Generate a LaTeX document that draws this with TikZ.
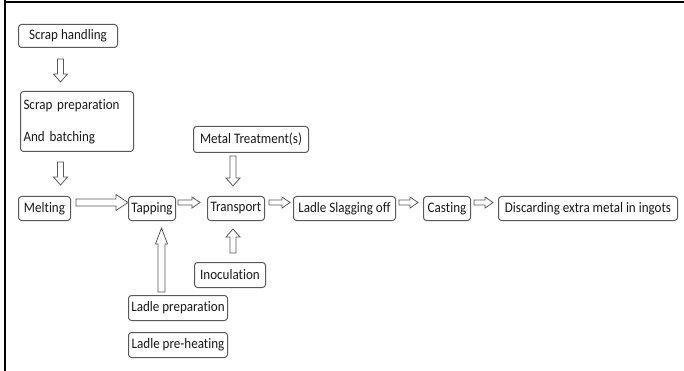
\documentclass[tikz,border=0pt]{standalone}
\usepackage{fontspec}
\setmainfont{Carlito}[Ligatures=NoCommon, FakeStretch=0.9]
\usetikzlibrary{calc}

\tikzset{
  arr shaft/.store in=\arrshaft, arr head/.store in=\arrhead, arr len/.store in=\arrlen,
  arr pre/.store in=\arrpre, arr post/.store in=\arrpost,
  arr shaft=3, arr head=7, arr len=8, arr pre=0, arr post=0,
  stage/.style={draw=black!65, line width=1pt, rounded corners=3pt, anchor=north west,
    minimum height=24pt, inner sep=1pt, text=black!90, font=\fontsize{14.5}{17}\selectfont},
  hollow/.style={draw=black!65, line width=0.8pt, fill=white, line join=miter,
    to path={let \p1=(\tikztostart), \p2=(\tikztotarget),
      \n1={veclen(\x2-\x1,\y2-\y1)}, \n2={(\x2-\x1)/\n1}, \n3={(\y2-\y1)/\n1},
      \p3=({\x1+(\n2)*\arrpre},{\y1+(\n3)*\arrpre}),
      \p4=({\x2-(\n2)*\arrpost},{\y2-(\n3)*\arrpost}),
      \p5=({\x4-(\n2)*\arrlen},{\y4-(\n3)*\arrlen}) in
      ({\x3-(\n3)*\arrshaft},{\y3+(\n2)*\arrshaft}) -- ({\x5-(\n3)*\arrshaft},{\y5+(\n2)*\arrshaft})
      -- ({\x5-(\n3)*\arrhead},{\y5+(\n2)*\arrhead}) -- (\p4)
      -- ({\x5+(\n3)*\arrhead},{\y5-(\n2)*\arrhead}) -- ({\x5+(\n3)*\arrshaft},{\y5-(\n2)*\arrshaft})
      -- ({\x3+(\n3)*\arrshaft},{\y3-(\n2)*\arrshaft}) -- cycle}},
  bigarr/.style={arr shaft=3.5, arr head=8, arr len=12},
  smallarr/.style={arr shaft=2.5, arr head=5.5, arr len=8}
}

\begin{document}
\begin{tikzpicture}[x=1pt, y=-1pt]
  \useasboundingbox (0,0) rectangle (684,371);
  % frame (top and left only)
  \draw[line width=2pt] (5,0) -- (5,371);
  \draw[line width=2pt] (4,2) -- (684,2);

  % scrap side
  \node[stage, minimum width=99pt, minimum height=23pt] (scrap) at (18,24) {Scrap handling};
  \node[stage, minimum width=113pt, minimum height=60pt, text width=107pt, inner xsep=3pt, align=left]
    (prep) at (20,91) {Scrap preparation\\[15pt]And batching};

  % main line
  \node[stage, minimum width=52pt] (melt) at (18,196) {Melting};
  \node[stage, minimum width=47pt] (tap) at (128,196) {Tapping};
  \node[stage, minimum width=57pt] (trans) at (207,196) {Transport};
  \node[stage, minimum width=102pt] (slag) at (293,196) {Ladle Slagging off};
  \node[stage, minimum width=47pt] (cast) at (423,196) {Casting};
  \node[stage, minimum width=179pt] (disc) at (498,196) {Discarding extra metal in ingots};

  % side inputs
  \node[stage, minimum width=115pt, minimum height=26pt] (treat) at (193,126) {Metal Treatment(s)};
  \node[stage, minimum width=71pt, minimum height=25pt] (inoc) at (194,262) {Inoculation};
  \node[stage, minimum width=99pt, minimum height=25pt] (lprep) at (128,295) {Ladle preparation};
  \node[stage, minimum width=99pt, minimum height=25pt] (lheat) at (128,332) {Ladle pre-heating};

  % hollow arrows, vertical
  \draw[hollow, arr pre=11, arr post=9] ([xshift=-7.5pt]scrap.south) to ([xshift=-7.5pt]scrap.south |- prep.north);
  \draw[hollow, arr pre=10, arr post=11] ([xshift=-16.5pt]prep.south) to ([xshift=-16.5pt]prep.south |- melt.north);
  \draw[hollow, arr pre=3, arr post=10] ([xshift=-18pt]treat.south) to ([xshift=-18pt]treat.south |- trans.north);
  \draw[hollow, arr pre=9, arr post=8] ([xshift=3pt]inoc.north) to ([xshift=3pt]inoc.north |- trans.south);
  \draw[hollow, arr shaft=3.5, arr head=6, arr len=16, arr pre=3, arr post=7]
    ([xshift=-16.5pt]lprep.north) to ([xshift=-16.5pt]lprep.north |- tap.south);

  % hollow arrows, horizontal
  \draw[hollow, bigarr, arr pre=5] ([yshift=6pt]melt.east) to ([yshift=6pt]tap.west);
  \draw[hollow, smallarr, arr pre=2, arr post=7] ([yshift=6pt]tap.east) to ([yshift=6pt]trans.west);
  \draw[hollow, smallarr, arr pre=4, arr post=3] ([yshift=6pt]trans.east) to ([yshift=6pt]slag.west);
  \draw[hollow, smallarr, arr pre=3, arr post=5] ([yshift=6pt]slag.east) to ([yshift=6pt]cast.west);
  \draw[hollow, smallarr, arr pre=3, arr post=5] ([yshift=6pt]cast.east) to ([yshift=6pt]disc.west);
\end{tikzpicture}
\end{document}
